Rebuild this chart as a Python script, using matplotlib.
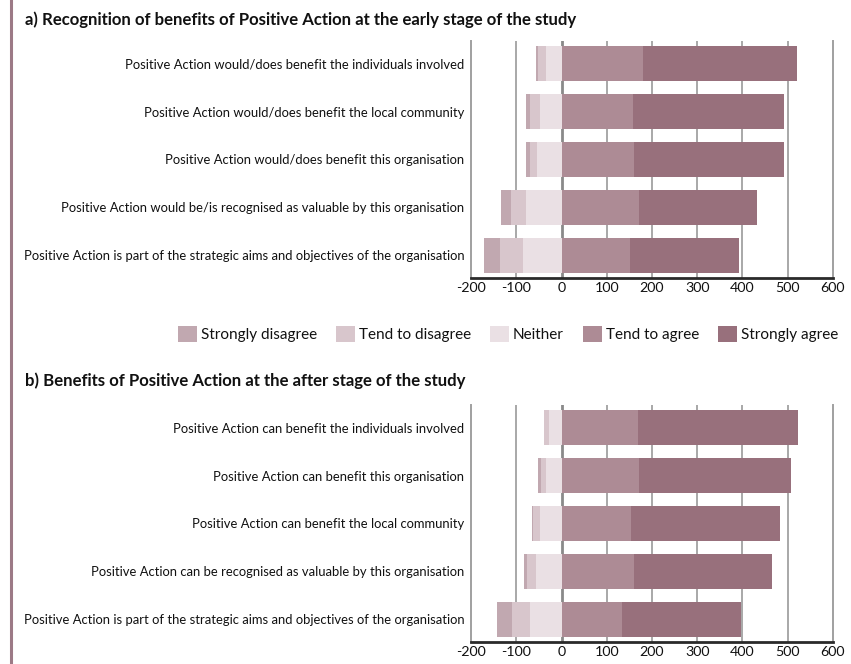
import matplotlib
matplotlib.use("Agg")
import matplotlib.pyplot as plt
from matplotlib.patches import Patch
from matplotlib.lines import Line2D
import numpy as np

# ---------------- data ----------------
categories_a = [
    "Positive Action would/does benefit the individuals involved",
    "Positive Action would/does benefit the local community",
    "Positive Action would/does benefit this organisation",
    "Positive Action would be/is recognised as valuable by this organisation",
    "Positive Action is part of the strategic aims and objectives of the organisation",
]
strongly_disagree_a = [4, 9, 11, 22, 35]
tend_disagree_a = [18, 20, 15, 35, 51]
neither_a = [34, 49, 54, 78, 85]
tend_agree_a = [180, 158, 161, 172, 152]
strongly_agree_a = [340, 334, 332, 261, 241]

categories_b = [
    "Positive Action can benefit the individuals involved",
    "Positive Action can benefit this organisation",
    "Positive Action can benefit the local community",
    "Positive Action can be recognised as valuable by this organisation",
    "Positive Action is part of the strategic aims and objectives of the organisation",
]
strongly_disagree_b = [0, 7, 2, 7, 33]
tend_disagree_b = [11, 11, 16, 20, 42]
neither_b = [29, 34, 47, 56, 69]
tend_agree_b = [170, 172, 154, 161, 134]
strongly_agree_b = [354, 336, 329, 305, 263]

legend_labels = ["Strongly disagree", "Tend to disagree", "Neither",
                 "Tend to agree", "Strongly agree"]
x_ticks = [-200, -100, 0, 100, 200, 300, 400, 500, 600]

title_a = "a) Recognition of benefits of Positive Action at the early stage of the study"
title_b = "b) Benefits of Positive Action at the after stage of the study"

# ---------------- style ----------------
colors = ["#c1a8b0", "#d8c6cc", "#eae0e4", "#ad8b95", "#98707c"]
FAMILY = ["Lato", "DejaVu Sans"]
TEXT = "#111111"
W, H = 851, 664
fig = plt.figure(figsize=(W / 100, H / 100), dpi=100)
renderer = fig.canvas.get_renderer()


def fit_size(text, target_px, weight="normal"):
    t = fig.text(0, 0, text, fontsize=10, family=FAMILY, fontweight=weight)
    w = t.get_window_extent(renderer=renderer).width
    t.remove()
    return 10 * target_px / w


label_fs = fit_size(categories_a[4], 440)
title_fs = fit_size(title_a, 553, "bold")
legend_fs = fit_size("Strongly disagree", 116)
tick_fs = legend_fs * 0.93


def px_axes(left, right, top, bottom):
    return [left / W, 1 - bottom / H, (right - left) / W, (bottom - top) / H]


def draw_panel(ax, cats, sd, td, ne, ta, sa):
    y = np.arange(len(cats))
    sd = np.array(sd); td = np.array(td); ne = np.array(ne)
    ta = np.array(ta); sa = np.array(sa)
    h = 0.73
    ax.barh(y, -ne, left=0, height=h, color=colors[2], zorder=2)
    ax.barh(y, -td, left=-ne, height=h, color=colors[1], zorder=2)
    ax.barh(y, -sd, left=-ne - td, height=h, color=colors[0], zorder=2)
    ax.barh(y, ta, left=0, height=h, color=colors[3], zorder=2)
    ax.barh(y, sa, left=ta, height=h, color=colors[4], zorder=2)
    ax.set_ylim(len(cats) - 0.53, -0.47)
    ax.set_xlim(-200, 600)
    ax.set_xticks(x_ticks)
    ax.set_xticklabels([str(v) for v in x_ticks], fontsize=tick_fs,
                       family=FAMILY, color=TEXT)
    ax.set_yticks(y)
    ax.set_yticklabels(cats, fontsize=label_fs, family=FAMILY, color=TEXT)
    ax.tick_params(axis="both", length=0)
    ax.tick_params(axis="x", pad=3)
    ax.tick_params(axis="y", pad=5)
    for v in x_ticks[1:-1]:
        ax.axvline(v, color="#8a8a8a" if v == 0 else "#a8a8a8",
                   lw=2.0 if v == 0 else 1.4, zorder=1)
    for s in ["left", "right"]:
        ax.spines[s].set_color("#a0a0a0")
        ax.spines[s].set_linewidth(1.4)
    ax.spines["top"].set_visible(False)
    ax.spines["bottom"].set_color("#2a2a2a")
    ax.spines["bottom"].set_linewidth(2.0)
    ax.spines["bottom"].set_zorder(5)


ax_a = fig.add_axes(px_axes(471.3, 832.7, 41, 278))
draw_panel(ax_a, categories_a, strongly_disagree_a, tend_disagree_a,
           neither_a, tend_agree_a, strongly_agree_a)
ax_b = fig.add_axes(px_axes(471.3, 832.7, 405, 642))
draw_panel(ax_b, categories_b, strongly_disagree_b, tend_disagree_b,
           neither_b, tend_agree_b, strongly_agree_b)

fig.text(25 / W, 1 - 20 / H, title_a, fontsize=title_fs, fontweight="bold",
         family=FAMILY, color=TEXT, va="center", ha="left")
fig.text(25 / W, 1 - 381 / H, title_b, fontsize=title_fs, fontweight="bold",
         family=FAMILY, color=TEXT, va="center", ha="left")

handles = [Patch(facecolor=c, edgecolor="none") for c in colors]
fs_px = legend_fs * 100 / 72
fig.legend(handles, legend_labels, loc="center", ncol=5,
           bbox_to_anchor=(508 / W, 1 - 334 / H), frameon=False,
           prop={"family": FAMILY, "size": legend_fs},
           handlelength=19 / fs_px, handleheight=18 / fs_px,
           handletextpad=4 / fs_px, columnspacing=19 / fs_px,
           borderpad=0, borderaxespad=0)
for t in fig.legends[0].get_texts():
    t.set_color(TEXT)

fig.add_artist(Line2D([10.5 / W, 10.5 / W], [0, 1], transform=fig.transFigure,
                      color="#9c7a86", lw=2.2))

fig.savefig("out.png", dpi=100)
